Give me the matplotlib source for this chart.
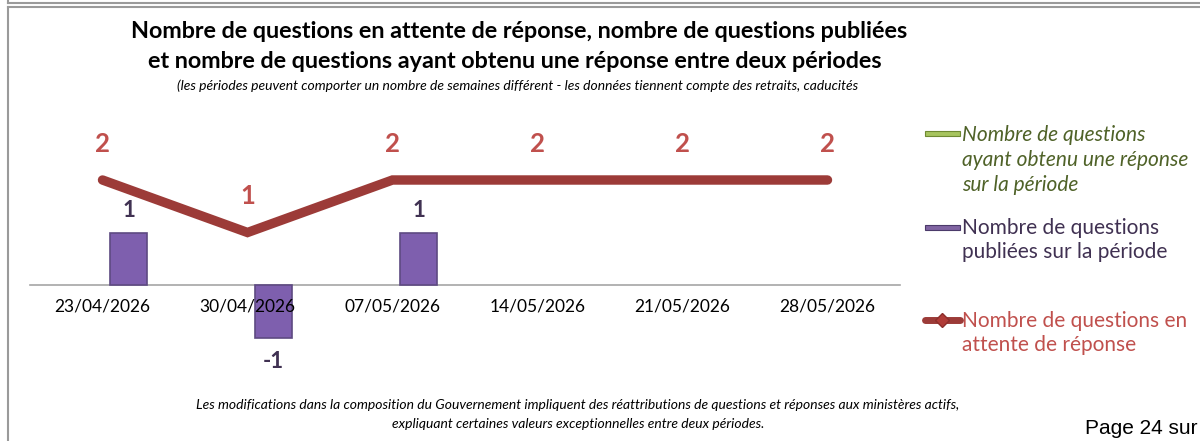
import matplotlib
matplotlib.use("Agg")
import matplotlib.pyplot as plt
from matplotlib.lines import Line2D
from matplotlib.patches import Rectangle
import numpy as np

categories = ["23/04/2026", "30/04/2026", "07/05/2026", "14/05/2026", "21/05/2026", "28/05/2026"]
answered = [0, 0, 0, 0, 0, 0]
published = [1, -1, 1, 0, 0, 0]
pending = [2, 1, 2, 2, 2, 2]

title = ("Nombre de questions en attente de réponse, nombre de questions publiées\n"
         "et nombre de questions ayant obtenu une réponse entre deux périodes")
subtitle = "(les périodes peuvent comporter un nombre de semaines différent - les données tiennent compte des retraits, caducités"
footnote = ("Les modifications dans la composition du Gouvernement impliquent des réattributions de questions et réponses aux ministères actifs,\n"
            "expliquant certaines valeurs exceptionnelles entre deux périodes.")
legend_labels = ["Nombre de questions\nayant obtenu une réponse\nsur la période",
                 "Nombre de questions\npubliées sur la période",
                 "Nombre de questions en\nattente de réponse"]
page_text = "Page 24 sur"

FONT = ["Lato", "DejaVu Sans"]
plt.rcParams["font.family"] = FONT

W, H = 1200, 441
fig = plt.figure(figsize=(W / 100, H / 100), dpi=100)

def fx(px):
    return px / W

def fy(py):
    return 1 - py / H

# frame lines
grey = "#9a9a9a"
fig.add_artist(Line2D([fx(8), 1], [fy(3), fy(3)], color=grey, lw=1.5))
fig.add_artist(Line2D([fx(8), fx(8)], [1, fy(3)], color=grey, lw=1.5))
fig.add_artist(Line2D([fx(8), 1], [fy(7), fy(7)], color=grey, lw=1.5))
fig.add_artist(Line2D([fx(8), fx(8)], [fy(7), 0], color=grey, lw=1.5))

# axes: x from 30 to 900 px; y: zero at 285 px, 52.5 px/unit
ymin, ymax = -1.5, 2.5
unit = 52.5
top_px = 285 - ymax * unit
bot_px = 285 - ymin * unit
ax = fig.add_axes([fx(30), fy(bot_px), fx(900) - fx(30), (bot_px - top_px) / H])
ax.set_xlim(-0.5, len(categories) - 0.5)
ax.set_ylim(ymin, ymax)
for k in ["top", "left", "right"]:
    ax.spines[k].set_visible(False)
ax.spines["bottom"].set_position(("data", 0))
ax.spines["bottom"].set_color("#a6a6a6")
ax.spines["bottom"].set_linewidth(1.2)
ax.spines["bottom"].set_zorder(0.5)
ax.set_yticks([])

x = np.arange(len(categories))
bw = 0.25
off = 0.18
ax.bar(x - off, answered, width=bw, color="#9BBB59", edgecolor="#76923C",
       linewidth=[1 if v else 0 for v in answered], zorder=1)
ax.bar(x + off, published, width=bw, color="#7E5FAE", edgecolor="#5E4A82",
       linewidth=[1.2 if v else 0 for v in published], zorder=1)
ax.plot(x, pending, color="#9C3B38", lw=6.8, solid_capstyle="round", solid_joinstyle="miter", zorder=3)

# data labels
for xi, v in zip(x, pending):
    ax.text(xi, v + 0.68 if v == 2 else v + 0.7, str(v), ha="center", va="center",
            color="#C0504D", fontsize=18.5, fontweight="bold")
for xi, v in zip(x, published):
    if v > 0:
        ax.text(xi + off, v + 0.42, str(v), ha="center", va="center",
                color="#403152", fontsize=16, fontweight="bold")
    elif v < 0:
        ax.text(xi + off, v - 0.45, str(v), ha="center", va="center",
                color="#403152", fontsize=16, fontweight="bold")

ax.set_xticks(x)
ax.set_xticklabels(categories, fontsize=12.5, color="#000000")
ax.tick_params(axis="x", length=0, pad=10)

# titles
fig.text(fx(519), fy(32), title.split("\n")[0], ha="center", va="center",
         fontsize=16.8, fontweight="bold", color="#000000")
fig.text(fx(515), fy(62), title.split("\n")[1], ha="center", va="center",
         fontsize=16.8, fontweight="bold", color="#000000")
fig.text(fx(518), fy(86), subtitle, ha="center", va="center", fontsize=10,
         style="italic", color="#000000")
fig.text(fx(578), fy(405), footnote.split("\n")[0], ha="center", va="center",
         fontsize=10, style="italic", color="#000000")
fig.text(fx(578), fy(424), footnote.split("\n")[1], ha="center", va="center",
         fontsize=10, style="italic", color="#000000")
fig.text(fx(1085), fy(428), page_text, ha="left", va="center",
         fontsize=15, family=["Liberation Sans", "DejaVu Sans"], color="#000000")

# legend (manual)
lx0, lx1 = 925, 960
fig.add_artist(Rectangle((fx(lx0), fy(136)), fx(lx1) - fx(lx0), 5 / H,
                         facecolor="#A7C45E", edgecolor="#6F8A32", lw=0.8))
fig.text(fx(962), fy(160), legend_labels[0], ha="left", va="center", fontsize=15,
         style="italic", color="#4F6228", linespacing=1.3)
fig.add_artist(Rectangle((fx(lx0), fy(230)), fx(lx1) - fx(lx0), 5 / H,
                         facecolor="#8064A2", edgecolor="#4B3A6A", lw=0.8))
fig.text(fx(962), fy(240), legend_labels[1], ha="left", va="center", fontsize=15,
         color="#403152", linespacing=1.3)
fig.add_artist(Line2D([fx(925), fx(960)], [fy(320), fy(320)], color="#9C3B38", lw=5,
                      solid_capstyle="round"))
fig.add_artist(Line2D([fx(942)], [fy(320)], marker="D", markersize=7, color="#B03C38",
                      markeredgecolor="#8C2E2B"))
fig.text(fx(962), fy(333), legend_labels[2], ha="left", va="center", fontsize=15,
         color="#C0504D", linespacing=1.3)

fig.savefig("out.png", dpi=100)
